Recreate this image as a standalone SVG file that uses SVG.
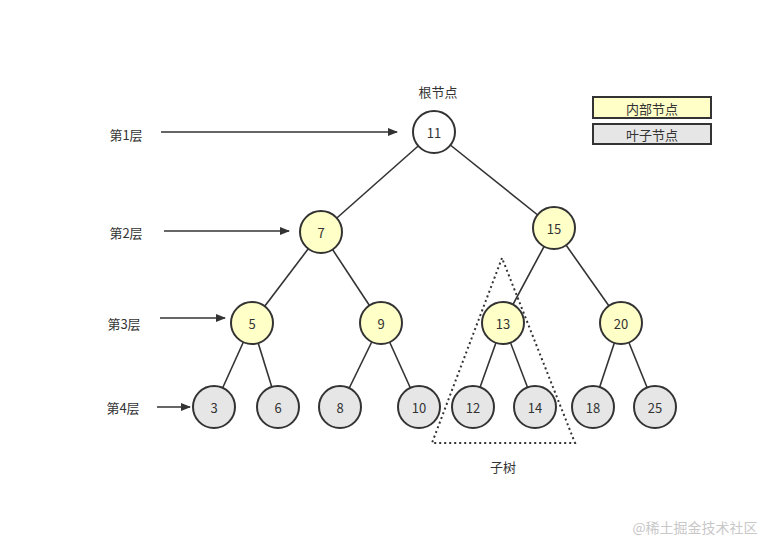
<svg xmlns="http://www.w3.org/2000/svg" width="772" height="543" viewBox="0 0 772 543">
<defs>
<style>
text{font-family:"Noto Sans CJK SC","Noto Sans",sans-serif;font-size:13px;fill:#333;text-anchor:middle;dominant-baseline:central}
.n circle{stroke:#333;stroke-width:2}
.w{fill:#fff}.y{fill:#ffffc8}.g{fill:#e6e6e6}
.e line{stroke:#333;stroke-width:1.6}
.a{stroke:#333;stroke-width:1.6;marker-end:url(#ah)}
</style>
<marker id="ah" markerWidth="10" markerHeight="8" refX="9" refY="4" orient="auto" markerUnits="userSpaceOnUse"><path d="M0,0L10,4L0,8z" fill="#333"/></marker>
</defs>
<rect width="772" height="543" fill="#fff"/>
<g id="connectors" class="e">
<line x1="434" y1="132" x2="321" y2="232"/><line x1="434" y1="132" x2="554" y2="228"/>
<line x1="321" y1="232" x2="252" y2="323"/><line x1="321" y1="232" x2="381" y2="323"/>
<line x1="554" y1="228" x2="503" y2="323"/><line x1="554" y1="228" x2="621" y2="323"/>
<line x1="252" y1="323" x2="214" y2="407"/><line x1="252" y1="323" x2="278" y2="407"/>
<line x1="381" y1="323" x2="340" y2="407"/><line x1="381" y1="323" x2="419" y2="407"/>
<line x1="503" y1="323" x2="473" y2="407"/><line x1="503" y1="323" x2="535" y2="407"/>
<line x1="621" y1="323" x2="593" y2="407"/><line x1="621" y1="323" x2="655" y2="407"/>
<line class="a" x1="161" y1="132" x2="397" y2="132"/>
<line class="a" x1="164" y1="231" x2="289" y2="231"/>
<line class="a" x1="160" y1="318" x2="225" y2="318"/>
<line class="a" x1="157" y1="407" x2="190" y2="407"/>
</g>
<polygon id="subtree" points="502,258 432,443 575,443" fill="none" stroke="#333" stroke-width="2" stroke-dasharray="2,3"/>
<g class="n">
<g id="n11"><circle class="w" cx="434" cy="132" r="21"/><text x="434" y="132">11</text></g>
<g id="n7"><circle class="y" cx="321" cy="232" r="21"/><text x="321" y="232">7</text></g>
<g id="n15"><circle class="y" cx="554" cy="228" r="21"/><text x="554" y="228">15</text></g>
<g id="n5"><circle class="y" cx="252" cy="323" r="21"/><text x="252" y="323">5</text></g>
<g id="n9"><circle class="y" cx="381" cy="323" r="21"/><text x="381" y="323">9</text></g>
<g id="n13"><circle class="y" cx="503" cy="323" r="21"/><text x="503" y="323">13</text></g>
<g id="n20"><circle class="y" cx="621" cy="323" r="21"/><text x="621" y="323">20</text></g>
<g id="n3"><circle class="g" cx="214" cy="407" r="21"/><text x="214" y="407">3</text></g>
<g id="n6"><circle class="g" cx="278" cy="407" r="21"/><text x="278" y="407">6</text></g>
<g id="n8"><circle class="g" cx="340" cy="407" r="21"/><text x="340" y="407">8</text></g>
<g id="n10"><circle class="g" cx="419" cy="407" r="21"/><text x="419" y="407">10</text></g>
<g id="n12"><circle class="g" cx="473" cy="407" r="21"/><text x="473" y="407">12</text></g>
<g id="n14"><circle class="g" cx="535" cy="407" r="21"/><text x="535" y="407">14</text></g>
<g id="n18"><circle class="g" cx="593" cy="407" r="21"/><text x="593" y="407">18</text></g>
<g id="n25"><circle class="g" cx="655" cy="407" r="21"/><text x="655" y="407">25</text></g>
</g>
<g id="labels">
<text x="438" y="91">根节点</text>
<text x="126" y="134">第1层</text>
<text x="126" y="232">第2层</text>
<text x="124" y="323">第3层</text>
<text x="123" y="407">第4层</text>
<text x="503" y="466">子树</text>
<text x="695" y="527" style="fill:#c8c8c8;font-size:14px">@稀土掘金技术社区</text>
</g>
<g id="legend-internal"><rect x="593" y="97" width="118" height="21" fill="#ffffc8" stroke="#333" stroke-width="2"/><text x="652" y="108">内部节点</text></g>
<g id="legend-leaf"><rect x="593" y="124" width="118" height="20" fill="#e6e6e6" stroke="#333" stroke-width="2"/><text x="652" y="134">叶子节点</text></g>
</svg>
